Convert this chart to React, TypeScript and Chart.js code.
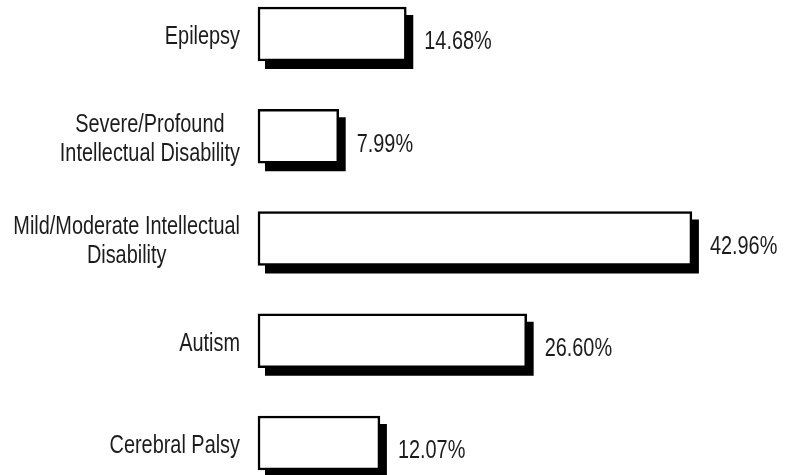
import React, { useEffect, useRef } from "react";
import { Chart, registerables } from "chart.js";

Chart.register(...registerables);

const categories: string[][] = [
  ["Epilepsy"],
  ["Severe/Profound", "Intellectual Disability"],
  ["Mild/Moderate Intellectual", "Disability"],
  ["Autism"],
  ["Cerebral Palsy"],
];
const values: number[] = [14.68, 7.99, 42.96, 26.6, 12.07];
const valueLabels: string[] = ["14.68%", "7.99%", "42.96%", "26.60%", "12.07%"];

const FONT_SIZE = 26;
const SCALE_X = 0.765;
const FONT = `${FONT_SIZE}px "Liberation Sans", Arial, sans-serif`;
const TEXT_COLOR = "#1c1c1c";
const SHADOW_DX = 7;
const SHADOW_DY = 8;

const shadowPlugin = {
  id: "barShadow",
  beforeDatasetsDraw(chart: any) {
    const ctx = chart.ctx;
    const meta = chart.getDatasetMeta(0);
    ctx.save();
    ctx.fillStyle = "#000";
    meta.data.forEach((bar: any) => {
      const h = bar.height;
      const left = Math.min(bar.base, bar.x);
      const w = Math.abs(bar.x - bar.base);
      ctx.fillRect(left + SHADOW_DX, bar.y - h / 2 + SHADOW_DY, w, h);
    });
    ctx.restore();
  },
};

const labelPlugin = {
  id: "customLabels",
  afterDatasetsDraw(chart: any) {
    const ctx = chart.ctx;
    const yScale = chart.scales.y;
    const area = chart.chartArea;
    const meta = chart.getDatasetMeta(0);
    ctx.save();
    ctx.font = FONT;
    ctx.fillStyle = TEXT_COLOR;
    ctx.textBaseline = "alphabetic";
    const capHalf = (FONT_SIZE * 0.716) / 2;
    const lineH = 29;
    const right = area.left - 18;
    categories.forEach((lines, i) => {
      const cy = yScale.getPixelForValue(i);
      const blockW = Math.max(...lines.map((l) => ctx.measureText(l).width)) * SCALE_X;
      const cx = right - blockW / 2;
      lines.forEach((line, j) => {
        const by = cy + (j - (lines.length - 1) / 2) * lineH + capHalf + 1;
        ctx.save();
        ctx.translate(cx, by);
        ctx.scale(SCALE_X, 1);
        ctx.textAlign = "center";
        ctx.fillText(line, 0, 0);
        ctx.restore();
      });
    });
    meta.data.forEach((bar: any, i: number) => {
      const x = bar.x + 18;
      const by = bar.y + 6 + capHalf;
      ctx.save();
      ctx.translate(x, by);
      ctx.scale(SCALE_X, 1);
      ctx.textAlign = "left";
      ctx.fillText(valueLabels[i], 0, 0);
      ctx.restore();
    });
    ctx.restore();
  },
};

export default function App() {
  const ref = useRef<HTMLCanvasElement>(null);
  useEffect(() => {
    if (!ref.current) return;
    const chart = new Chart(ref.current, {
      type: "bar",
      data: {
        labels: categories.map((c) => c.join(" ")),
        datasets: [
          {
            data: values,
            backgroundColor: "#ffffff",
            borderColor: "#000000",
            borderWidth: 2.5,
            borderSkipped: false,
            barThickness: 54,
            clip: false as any,
          },
        ],
      },
      options: {
        indexAxis: "y",
        responsive: false,
        animation: false,
        layout: { padding: { left: 258, right: 32, top: 34, bottom: 32 } },
        plugins: { legend: { display: false }, tooltip: { enabled: false } },
        scales: {
          x: { display: false, min: 0, max: 50 },
          y: { display: false, offset: false },
        },
      },
      plugins: [shadowPlugin, labelPlugin],
    });
    return () => chart.destroy();
  }, []);
  return (
    <div style={{ position: "absolute", left: 0, top: 0, width: 795, height: 475, background: "#fff" }}>
      <canvas ref={ref} width={795} height={475} style={{ width: 795, height: 475 }} />
    </div>
  );
}
